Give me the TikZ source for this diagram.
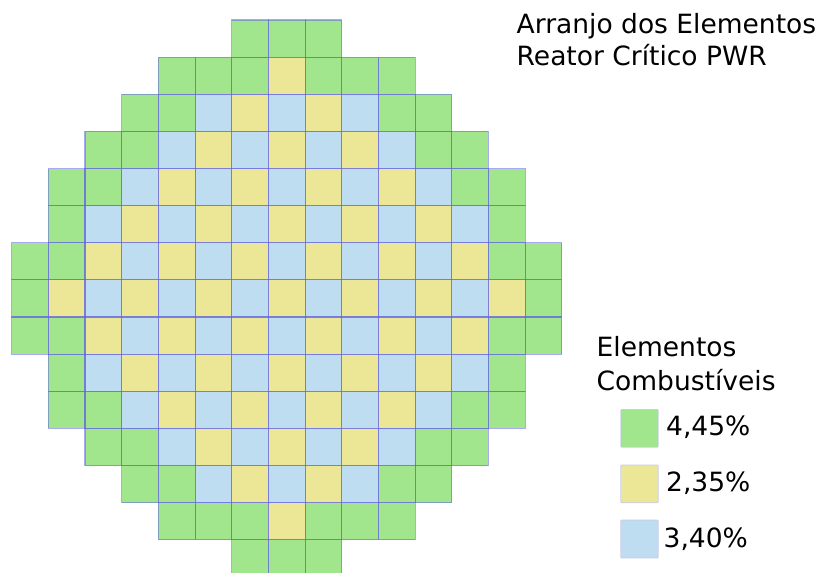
\documentclass[tikz,border=0pt]{standalone}
\usepackage{fontspec}
\setmainfont{DejaVu Sans}
\definecolor{cG}{RGB}{161,230,141}
\definecolor{cY}{RGB}{236,231,151}
\definecolor{cB}{RGB}{191,221,241}
\definecolor{cline}{RGB}{100,100,225}
\definecolor{cbox}{RGB}{200,200,235}
\tikzset{
  cell/.style={draw=cline, draw opacity=0.55, line width=1.1pt},
  lbox/.style={draw=cbox, line width=0.8pt, rounded corners=1pt},
  txt/.style={anchor=base west, inner sep=0pt, font=\fontsize{26.5}{32}\selectfont}
}
\begin{document}
\begin{tikzpicture}[x=1pt,y=-1pt]
\useasboundingbox (0,0) rectangle (825,573);
\clip (0,0) rectangle (825,573);
\foreach \r/\s/\lst in {
  0/6/{G,G,G},
  1/4/{G,G,G,Y,G,G,G},
  2/3/{G,G,B,Y,B,Y,B,G,G},
  3/2/{G,G,B,Y,B,Y,B,Y,B,G,G},
  4/1/{G,G,B,Y,B,Y,B,Y,B,Y,B,G,G},
  5/1/{G,B,Y,B,Y,B,Y,B,Y,B,Y,B,G},
  6/0/{G,G,Y,B,Y,B,Y,B,Y,B,Y,B,Y,G,G},
  7/0/{G,Y,B,Y,B,Y,B,Y,B,Y,B,Y,B,Y,G},
  8/0/{G,G,Y,B,Y,B,Y,B,Y,B,Y,B,Y,G,G},
  9/1/{G,B,Y,B,Y,B,Y,B,Y,B,Y,B,G},
  10/1/{G,G,B,Y,B,Y,B,Y,B,Y,B,G,G},
  11/2/{G,G,B,Y,B,Y,B,Y,B,G,G},
  12/3/{G,G,B,Y,B,Y,B,G,G},
  13/4/{G,G,G,Y,G,G,G},
  14/6/{G,G,G}}{
  \foreach \k [count=\i from 0] in \lst {
    \pgfmathsetmacro\cx{11.7+36.67*(\s+\i)}
    \pgfmathsetmacro\cy{20+37.13*\r}
    \fill[c\k] (\cx,\cy) rectangle ++(36.67,37.13);
  }
}
\foreach \r/\s/\lst in {
  0/6/{G,G,G},
  1/4/{G,G,G,Y,G,G,G},
  2/3/{G,G,B,Y,B,Y,B,G,G},
  3/2/{G,G,B,Y,B,Y,B,Y,B,G,G},
  4/1/{G,G,B,Y,B,Y,B,Y,B,Y,B,G,G},
  5/1/{G,B,Y,B,Y,B,Y,B,Y,B,Y,B,G},
  6/0/{G,G,Y,B,Y,B,Y,B,Y,B,Y,B,Y,G,G},
  7/0/{G,Y,B,Y,B,Y,B,Y,B,Y,B,Y,B,Y,G},
  8/0/{G,G,Y,B,Y,B,Y,B,Y,B,Y,B,Y,G,G},
  9/1/{G,B,Y,B,Y,B,Y,B,Y,B,Y,B,G},
  10/1/{G,G,B,Y,B,Y,B,Y,B,Y,B,G,G},
  11/2/{G,G,B,Y,B,Y,B,Y,B,G,G},
  12/3/{G,G,B,Y,B,Y,B,G,G},
  13/4/{G,G,G,Y,G,G,G},
  14/6/{G,G,G}}{
  \foreach \k [count=\i from 0] in \lst {
    \pgfmathsetmacro\cx{11.7+36.67*(\s+\i)}
    \pgfmathsetmacro\cy{20+37.13*\r}
    \draw[cell] (\cx,\cy) rectangle ++(36.67,37.13);
  }
}
% title
\node[txt] (t1) at (516.5,33.3) {Arranjo dos Elementos};
\node[txt] (t2) at (516.5,65.3) {Reator Crítico PWR};
% legend
\node[txt] (l1) at (596.5,356.7) {Elementos};
\node[txt] (l2) at (596.5,390) {Combustíveis};
\fill[cG] (620.7,409.5) rectangle (658.3,447.3);
\draw[lbox] (620.7,409.5) rectangle (658.3,447.3);
\fill[cY] (620.7,465) rectangle (658.3,502.7);
\draw[lbox] (620.7,465) rectangle (658.3,502.7);
\fill[cB] (620.7,520) rectangle (658.3,558);
\draw[lbox] (620.7,520) rectangle (658.3,558);
\node[txt] (v1) at (666,435) {4,45\%};
\node[txt] (v2) at (666,491.7) {2,35\%};
\node[txt] (v3) at (663.5,547.7) {3,40\%};
\end{tikzpicture}
\end{document}
